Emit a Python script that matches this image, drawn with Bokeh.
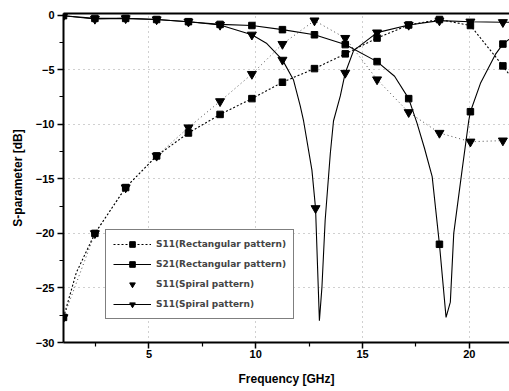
from bokeh.plotting import figure
from bokeh.models import Range1d, LinearAxis, Legend, LegendItem, FixedTicker
from bokeh.embed import file_html
from bokeh.resources import INLINE

# ---- data ----
freq_mk = [1.0, 2.47, 3.91, 5.36, 6.85, 8.33, 9.82, 11.25, 12.75, 14.19, 15.68, 17.16, 18.6, 20.05, 21.57]

s11_rect_mk = [-27.7, -20.0, -15.8, -12.9, -10.8, -9.1, -7.65, -6.15, -4.9, -3.55, -2.1, -0.9, -0.4, -0.95, -4.65]
s11_rect_x = [1.0, 1.6, 2.47, 3.91, 5.36, 6.85, 8.33, 9.82, 11.25, 12.75, 14.19, 15.68, 17.16, 18.6, 20.05, 21.57, 22.0]
s11_rect_y = [-27.7, -23.6, -20.0, -15.8, -12.9, -10.8, -9.1, -7.65, -6.15, -4.9, -3.55, -2.1, -0.9, -0.4, -0.95, -4.65, -5.8]

s21_rect_mk = [-0.05, -0.3, -0.3, -0.4, -0.6, -0.85, -0.95, -1.33, -1.8, -2.7, -4.26, -7.65, -21.0, -8.85, -2.65]
s21_rect_x = [1.0, 2.47, 3.91, 5.36, 6.85, 8.33, 9.82, 11.25, 12.75, 14.19, 15.68, 16.5, 17.16, 17.55, 17.9,
              18.26, 18.6, 18.91, 19.11, 19.27, 19.66, 19.97, 20.05, 20.52, 21.22, 21.57, 22.0]
s21_rect_y = [-0.05, -0.3, -0.3, -0.4, -0.6, -0.85, -0.95, -1.33, -1.8, -2.7, -4.26, -5.6, -7.65, -9.9, -12.2,
              -14.8, -21.0, -27.7, -26.3, -20.0, -14.2, -9.7, -8.85, -6.25, -3.6, -2.65, -2.0]

s11_spiral_x = [1.0, 2.47, 3.91, 5.36, 6.85, 8.33, 9.82, 11.25, 12.75, 14.19, 15.68, 17.16, 18.6, 20.05, 21.57]
s11_spiral_mk = [-27.7, -20.0, -15.8, -12.9, -10.3, -7.9, -5.4, -2.65, -0.5, -2.1, -5.9, -8.9, -10.8, -11.6, -11.5]

s21_spiral_mk_x = [1.0, 2.47, 3.91, 5.36, 6.85, 8.33, 9.82, 11.25, 12.8, 14.19, 15.68, 17.16, 18.6, 20.05, 21.57]
s21_spiral_mk = [-0.05, -0.35, -0.3, -0.4, -0.6, -0.9, -1.8, -4.1, -17.7, -5.3, -1.6, -0.9, -0.5, -0.6, -0.65]
s21_spiral_x = [1.0, 2.47, 3.91, 5.36, 6.85, 8.33, 9.82, 10.52, 11.25, 11.77, 12.08, 12.24, 12.63, 12.8, 12.98,
                13.1, 13.25, 13.49, 13.64, 13.96, 14.19, 14.58, 15.68, 17.16, 18.6, 20.05, 21.57, 22.0]
s21_spiral_y = [-0.05, -0.35, -0.3, -0.4, -0.6, -0.9, -1.8, -2.6, -4.1, -5.95, -8.3, -9.7, -14.2, -17.7, -28.0,
                -24.9, -18.8, -12.7, -9.7, -7.4, -5.3, -3.25, -1.6, -0.9, -0.5, -0.6, -0.65, -0.65]

labels = ["S11(Rectangular pattern)", "S21(Rectangular pattern)", "S11(Spiral pattern)", "S11(Spiral pattern)"]
y_ticks = [-30, -25, -20, -15, -10, -5, 0]
x_ticks = [5, 10, 15, 20]

FONT = "Liberation Sans"

p = figure(width=509, height=391, x_range=Range1d(1, 21.88), y_range=Range1d(-30, 0.15),
           output_backend="svg", toolbar_location=None,
           min_border_left=63, min_border_right=0, min_border_top=13, min_border_bottom=49)
p.outline_line_color = None
p.background_fill_color = "white"

# curves
r1l = p.line(s11_rect_x, s11_rect_y, line_color="black", line_width=1.1, line_dash="2 2")
r1m = p.scatter(freq_mk, s11_rect_mk, marker="square", size=6.5, color="black")
r2l = p.line(s21_rect_x, s21_rect_y, line_color="black", line_width=1.1)
r2m = p.scatter(freq_mk, s21_rect_mk, marker="square", size=6.5, color="black")
r3l = p.line(s11_spiral_x, s11_spiral_mk, line_color="black", line_width=1, line_dash="1 3", line_alpha=0.7)
r3m = p.scatter(s11_spiral_x, s11_spiral_mk, marker="inverted_triangle", size=9, color="black")
r4l = p.line(s21_spiral_x, s21_spiral_y, line_color="black", line_width=1.1)
r4m = p.scatter(s21_spiral_mk_x, s21_spiral_mk, marker="inverted_triangle", size=9, color="black")

# axes
for ax in (p.xaxis[0], p.yaxis[0]):
    ax.axis_line_width = 2
    ax.major_tick_line_width = 1.5
    ax.minor_tick_line_width = 1.2
    ax.major_tick_in = 0
    ax.minor_tick_in = 0
    ax.major_tick_out = 6
    ax.minor_tick_out = 4
    ax.major_label_text_font = FONT
    ax.major_label_text_font_style = "bold"
    ax.major_label_text_font_size = "11px"
    ax.major_label_text_color = "black"
    ax.axis_label_text_font = FONT
    ax.axis_label_text_font_style = "bold"
    ax.axis_label_text_font_size = "12px"
    ax.axis_label_text_color = "black"

p.xaxis[0].ticker = FixedTicker(ticks=x_ticks, minor_ticks=[2.5, 7.5, 12.5, 17.5])
p.yaxis[0].ticker = FixedTicker(ticks=y_ticks, minor_ticks=[-27.5, -22.5, -17.5, -12.5, -7.5, -2.5])
p.xaxis[0].axis_label = "Frequency [GHz]"
p.yaxis[0].axis_label = "S-parameter [dB]"
p.xaxis[0].major_label_standoff = 1
p.yaxis[0].major_label_standoff = 3
p.xaxis[0].axis_label_standoff = 11
p.yaxis[0].axis_label_standoff = 8

top = LinearAxis(ticker=FixedTicker(ticks=[]), axis_line_width=2, major_tick_out=0, minor_tick_out=0,
                 major_label_text_font_size="0px")
p.add_layout(top, "above")

# grid
for g in (p.xgrid[0], p.ygrid[0]):
    g.grid_line_color = "#8a8a8a"
    g.grid_line_dash = "1 4"
    g.grid_line_alpha = 0.8
p.xgrid[0].ticker = FixedTicker(ticks=x_ticks)
p.ygrid[0].ticker = FixedTicker(ticks=[-25, -20, -15, -10, -5])

legend = Legend(items=[
    LegendItem(label=labels[0], renderers=[r1l, r1m]),
    LegendItem(label=labels[1], renderers=[r2l, r2m]),
    LegendItem(label=labels[2], renderers=[r3m]),
    LegendItem(label=labels[3], renderers=[r4l, r4m]),
], location=(42, 23))
legend.border_line_color = "black"
legend.border_line_width = 1
legend.background_fill_alpha = 1
legend.label_text_font = "DejaVu Sans"
legend.label_text_font_style = "bold"
legend.label_text_font_size = "9px"
legend.label_height = 14
legend.glyph_height = 14
legend.glyph_width = 38
legend.spacing = 6
legend.padding = 7
legend.margin = 0
legend.label_standoff = 5
p.add_layout(legend, "center")

open("out.html", "w").write(file_html(p, INLINE))
